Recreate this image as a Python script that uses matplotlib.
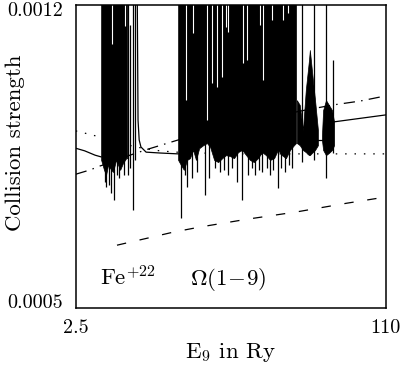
import matplotlib
matplotlib.use("Agg")
import matplotlib.pyplot as plt
import matplotlib.transforms as mtransforms

plt.rcParams['font.family'] = ['cmr10', 'DejaVu Serif']
plt.rcParams['mathtext.fontset'] = 'cm'
plt.rcParams['axes.formatter.use_mathtext'] = True

# smooth background of the resonance curve (E in Ry, collision strength)
bg_left_e = [2.5, 5.6, 9.2, 11.3]
bg_left = [0.000868, 0.000862, 0.000852, 0.000848]
bg_mid_e = [23.8, 24.1, 24.5, 25.1, 26.9, 31.7, 38.0]
bg_mid = [0.00125, 0.000933, 0.000887, 0.000871, 0.000859, 0.000857, 0.000855]
bg_gap_e = [86.5, 87.9]
bg_gap = [0.000887, 0.000887]
bg_right_e = [92.1, 110.0]
bg_right = [0.000929, 0.000945]

# dense resonance bands: lower envelope (upper edge runs off the plot)
band1_e = [11.3, 12.3, 13.0, 13.7, 14.4, 15.4, 16.5, 17.2, 17.9, 18.9, 20.0, 20.3]
band1_low = [0.000841, 0.000818, 0.000806, 0.000829, 0.000822, 0.000813,
             0.000841, 0.000829, 0.000818, 0.000834, 0.000845, 0.000845]
band2_e = [38.0, 39.0, 40.0, 41.1, 42.1, 43.2, 44.2, 45.3, 46.7, 48.0, 49.1,
           50.5, 51.9, 53.3, 54.6, 56.0, 57.4, 58.8, 60.2, 61.6, 62.9, 64.3,
           65.7, 67.1, 68.5, 69.9, 71.3, 72.6, 74.0, 75.4, 76.8, 78.2, 78.9]
band2_low = [0.000841, 0.000829, 0.000818, 0.000841, 0.000845, 0.000864,
             0.000841, 0.000868, 0.000875, 0.000880, 0.000871, 0.000841,
             0.000836, 0.000845, 0.000852, 0.000850, 0.000845, 0.000859,
             0.000864, 0.000852, 0.000841, 0.000836, 0.000845, 0.000859,
             0.000852, 0.000841, 0.000845, 0.000864, 0.000852, 0.000845,
             0.000864, 0.000875, 0.000880]

# isolated resonance clusters near the n=3 thresholds
clus_e = [79.2, 80.2, 81.3, 82.3, 83.4, 83.7, 84.4, 85.5, 86.5]
clus_low = [0.000880, 0.000875, 0.000864, 0.000859, 0.000852, 0.000852,
            0.000857, 0.000864, 0.000875]
clus_high = [0.000979, 0.000968, 0.000910, 0.001003, 0.001072, 0.001095,
             0.001049, 0.000979, 0.000910]
clus2_e = [87.9, 88.3, 89.3, 90.3, 91.4, 92.1]
clus2_low = [0.000887, 0.000864, 0.000852, 0.000857, 0.000864, 0.000875]
clus2_high = [0.000898, 0.000956, 0.000979, 0.000968, 0.000956, 0.000929]

# narrow resonances reaching below the bands
dips_e = [12.6, 13.0, 14.0, 14.7, 15.8, 16.9, 17.5, 19.3, 22.4, 39.0, 40.4,
          41.1, 42.8, 44.6, 47.3, 48.7, 50.9, 52.5, 53.9, 55.3, 56.7, 58.4,
          60.2, 62.2, 63.6, 64.7, 66.0, 67.1, 68.8, 69.9, 71.0, 72.6, 73.7,
          75.0, 76.4, 77.5, 81.0, 85.0, 89.3]
dips_low = [0.000790, 0.000778, 0.000783, 0.000765, 0.000748, 0.000806,
            0.000799, 0.000806, 0.000725, 0.000707, 0.000806, 0.000778,
            0.000799, 0.000813, 0.000760, 0.000799, 0.000822, 0.000813,
            0.000818, 0.000806, 0.000822, 0.000790, 0.000748, 0.000806,
            0.000822, 0.000806, 0.000818, 0.000813, 0.000822, 0.000806,
            0.000818, 0.000776, 0.000822, 0.000813, 0.000829, 0.000822,
            0.000836, 0.000841, 0.000799]
dips_high = [0.00125] * len(dips_e)

# single resonance lines just above band 1 and in cluster 2
lines_e = [20.6, 21.3, 23.1, 91.7]
lines_low = [0.000806, 0.000822, 0.000841, 0.000857]
lines_high = [0.00125, 0.001153, 0.00125, 0.001072]

# windows between resonances inside the bands (peak height where they stop)
gaps_e = [14.9, 19.6, 40.8, 43.2, 48.0, 49.8, 51.5, 53.3, 54.6, 55.3, 60.5,
          61.9, 66.4, 67.5, 70.6, 74.4, 76.2]
gaps_top = [0.001110, 0.001150, 0.000979, 0.001134, 0.000933, 0.001019,
            0.001009, 0.001032, 0.001148, 0.001136, 0.001065, 0.001072,
            0.001153, 0.001025, 0.001164, 0.001164, 0.001180]

# comparison curves
dot_e = [2.5, 6.8, 10.9, 15.1, 19.2, 23.4, 27.6, 31.7, 37.3, 45.6, 59.5, 80.2, 110.0]
dot_v = [0.000908, 0.000901, 0.000894, 0.000887, 0.000878, 0.000871, 0.000866,
         0.000862, 0.000859, 0.000857, 0.000855, 0.000855, 0.000855]
dashdot_e = [2.5, 7.5, 10.9, 16.1, 21.3, 27.6, 33.5, 40.4, 47.3, 54.3, 61.2,
             71.6, 82.0, 91.7, 101.1, 110.0]
dashdot_v = [0.000808, 0.000818, 0.000827, 0.000838, 0.000852, 0.000866,
             0.000878, 0.000892, 0.000903, 0.000915, 0.000926, 0.000942,
             0.000956, 0.000968, 0.000977, 0.000989]
dash_e = [16.8, 27.2, 36.2, 45.6, 61.9, 79.2, 96.5, 109.7]
dash_v = [0.000644, 0.000660, 0.000674, 0.000686, 0.000704, 0.000721,
          0.000741, 0.000755]

fig = plt.figure(figsize=(4.03, 3.65), dpi=100)
ax = fig.add_axes([0.188, 0.1575, 0.769, 0.830])

top = [0.00125] * len(band1_e)
ax.fill_between(band1_e, band1_low, top, color='k', lw=0.5)
top = [0.00125] * len(band2_e)
ax.fill_between(band2_e, band2_low, top, color='k', lw=0.5)
ax.fill_between(clus_e, clus_low, clus_high, color='k', lw=0.5)
ax.fill_between(clus2_e, clus2_low, clus2_high, color='k', lw=0.5)
ax.vlines(dips_e, dips_low, dips_high, color='k', lw=0.9)
ax.vlines(lines_e, lines_low, lines_high, color='k', lw=0.9)
ax.vlines(gaps_e, gaps_top, [0.00125] * len(gaps_e), color='white', lw=0.8)

for e, v in [(bg_left_e, bg_left), (bg_mid_e, bg_mid), (bg_gap_e, bg_gap), (bg_right_e, bg_right)]:
	ax.plot(e, v, color='k', lw=0.9)

ax.plot(dot_e, dot_v, color='k', lw=0.9, linestyle=(0, (1.2, 6.3)))
ax.plot(dashdot_e, dashdot_v, color='k', lw=0.9, linestyle=(0, (9, 5, 1.2, 5)))
ax.plot(dash_e, dash_v, color='k', lw=0.9, linestyle=(0, (7.5, 11)))

ax.set_xlim(2.5, 110)
ax.set_ylim(0.0005, 0.0012)
ax.set_xticks([2.5, 110])
ax.set_xticklabels(['2.5', '110'])
ax.set_yticks([0.0005, 0.0012])
ax.set_yticklabels(['0.0005', '0.0012'])
ax.tick_params(length=0, labelsize=14.5, pad=8)
ax.tick_params(axis='y', pad=9)
ylabs = ax.get_yticklabels()
ylabs[0].set_transform(ylabs[0].get_transform() + mtransforms.ScaledTranslation(0, 5 / 72, fig.dpi_scale_trans))
ylabs[1].set_transform(ylabs[1].get_transform() + mtransforms.ScaledTranslation(0, -3 / 72, fig.dpi_scale_trans))
for s in ax.spines.values():
	s.set_linewidth(1.1)

ax.set_xlabel(r'E$_9$ in Ry', fontsize=16.5, labelpad=3)
ax.set_ylabel('Collision strength', fontsize=16.5)
ax.yaxis.set_label_coords(-0.165, 0.545)
ax.text(11.0, 0.000552, r'Fe$^{+22}$', fontsize=16.5)
ax.text(42.0, 0.000552, r'$\Omega(1\!-\!9)$', fontsize=16.5)

fig.savefig('out.png', dpi=100)
